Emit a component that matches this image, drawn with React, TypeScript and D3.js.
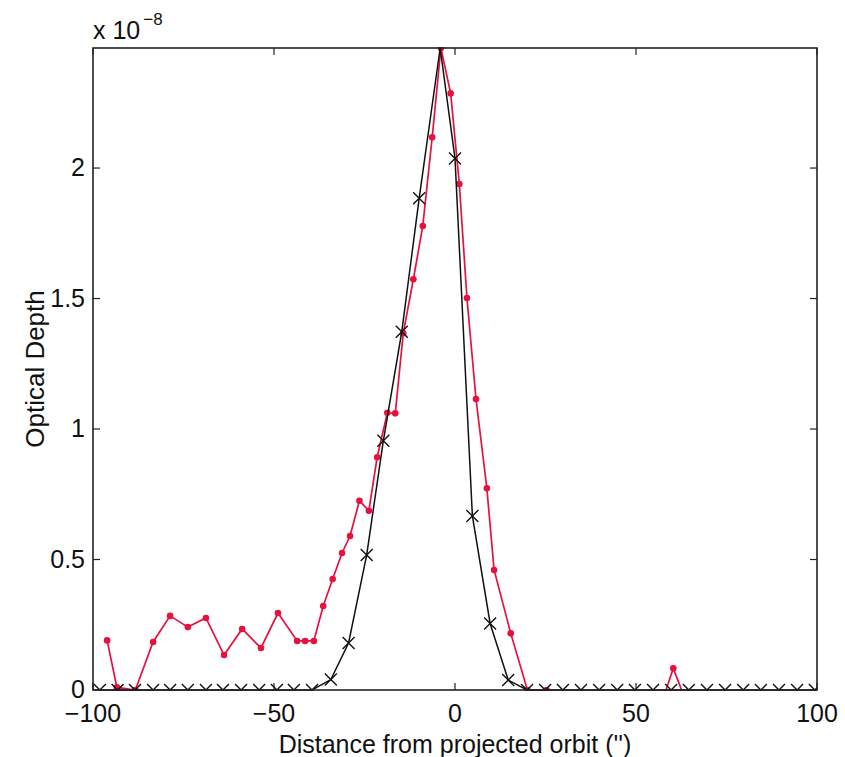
import React from "react";
import * as d3 from "d3";

// Black model (crosses) sample positions and values (units of 1e-8)
const crossX = [-98.1, -93.2, -88.4, -83.4, -78.7, -73.8, -68.8, -64.1, -59.1, -54.1, -49.2, -44.5, -39.5,
  -34.3, -29.4, -24.4, -19.8, -14.7, -9.9, 0, 4.8, 9.7, 14.7, 19.9, 24.9, 29.8, 34.8, 39.8, 44.8, 49.7,
  54.7, 59.7, 64.6, 69.6, 74.6, 79.6, 84.5, 89.5, 94.5, 99.4];
const crossY = [0, 0, 0, 0, 0, 0, 0, 0, 0, 0, 0, 0, 0,
  0.04, 0.18, 0.517, 0.955, 1.373, 1.884, 2.037, 0.667, 0.255, 0.038, 0, 0, 0, 0, 0, 0, 0,
  0, 0, 0, 0, 0, 0, 0, 0, 0, 0];
// Peak vertex of the black model curve
const blackPeakX = -4.1;
const blackPeakY = 2.46;

// Red measured series
const redX = [-96.1, -93.4, -88.3, -83.4, -78.7, -73.8, -68.8, -63.8, -58.8, -53.6, -48.9, -43.6, -41.4, -39.0,
  -36.4, -33.8, -31.2, -29.0, -26.4, -23.8, -21.5, -18.7, -16.5, -14.3, -11.5, -8.9, -6.3, -3.9, -1.2, 1.2,
  3.3, 5.8, 8.8, 10.8, 15.4, 20.0, 25.3];
const redY = [0.19, 0.01, 0, 0.184, 0.284, 0.241, 0.276, 0.134, 0.234, 0.161, 0.295, 0.188, 0.188, 0.188,
  0.322, 0.425, 0.525, 0.59, 0.725, 0.687, 0.892, 1.062, 1.06, 1.367, 1.574, 1.778, 2.118, 2.46, 2.286, 1.939,
  1.502, 1.115, 0.773, 0.46, 0.217, 0, 0];
const redSpikeX = [58.3, 60.3, 62.6];
const redSpikeY = [0, 0.083, 0];

const xTicks = [-100, -50, 0, 50, 100];
const yTicks = [0, 0.5, 1, 1.5, 2];
const xDomain = [-100, 100];
const yDomain = [0, 2.46];

const W = 845, H = 757;
const L = 93, R = 817, T = 48, B = 690;
const RED = "#e8103e";
const FONT = "'Liberation Sans', Arial, Helvetica, sans-serif";

export default function App() {
  const x = d3.scaleLinear().domain(xDomain).range([L, R]);
  const y = d3.scaleLinear().domain(yDomain).range([B, T]);

  const blackPts: [number, number][] = crossX.map((v, i) => [v, crossY[i]] as [number, number]);
  const insertAt = blackPts.findIndex((p) => p[0] > blackPeakX);
  blackPts.splice(insertAt, 0, [blackPeakX, blackPeakY]);

  const line = d3.line<[number, number]>().x((d) => x(d[0])).y((d) => y(d[1]));
  const redPts: [number, number][] = redX.map((v, i) => [v, redY[i]] as [number, number]);
  const spikePts: [number, number][] = redSpikeX.map((v, i) => [v, redSpikeY[i]] as [number, number]);

  const tickLen = 7;
  const cs = 6;

  return (
    <svg width={W} height={H} style={{ position: "absolute", left: 0, top: 0, background: "#fff" }}
      fontFamily={FONT}>
      <rect x={0} y={0} width={W} height={H} fill="#fff" />
      <defs>
        <clipPath id="plot">
          <rect x={L} y={T - 1} width={R - L} height={B - T + 2} />
        </clipPath>
      </defs>

      {/* red series */}
      <g clipPath="url(#plot)">
        <path d={line(redPts) || ""} fill="none" stroke={RED} strokeWidth={1.7} />
        <path d={line(spikePts) || ""} fill="none" stroke={RED} strokeWidth={1.7} />
        {redPts.map((p, i) => (
          <circle key={"r" + i} cx={x(p[0])} cy={y(p[1])} r={3.3} fill={RED} />
        ))}
        {spikePts.filter((p) => p[1] > 0).map((p, i) => (
          <circle key={"s" + i} cx={x(p[0])} cy={y(p[1])} r={3.3} fill={RED} />
        ))}
      </g>

      {/* black model */}
      <g clipPath="url(#plot)">
        <path d={line(blackPts) || ""} fill="none" stroke="#111" strokeWidth={1.5} />
        {crossX.map((v, i) => {
          const cx = x(v), cy = y(crossY[i]);
          return (
            <path key={"c" + i} d={`M${cx - cs},${cy - cs}L${cx + cs},${cy + cs}M${cx - cs},${cy + cs}L${cx + cs},${cy - cs}`}
              stroke="#111" strokeWidth={1.4} fill="none" />
          );
        })}
      </g>

      {/* axes box */}
      <rect x={L} y={T} width={R - L} height={B - T} fill="none" stroke="#222" strokeWidth={1.6} />
      {xTicks.map((t) => (
        <g key={"xt" + t}>
          <line x1={x(t)} x2={x(t)} y1={B} y2={B - tickLen} stroke="#222" strokeWidth={1.2} />
          <line x1={x(t)} x2={x(t)} y1={T} y2={T + tickLen} stroke="#222" strokeWidth={1.2} />
          <text x={x(t)} y={B + 32} textAnchor="middle" fontSize={25} fill="#111">
            {t < 0 ? "\u2212" + Math.abs(t) : String(t)}
          </text>
        </g>
      ))}
      {yTicks.map((t) => (
        <g key={"yt" + t}>
          <line x1={L} x2={L + tickLen} y1={y(t)} y2={y(t)} stroke="#222" strokeWidth={1.2} />
          <line x1={R} x2={R - tickLen} y1={y(t)} y2={y(t)} stroke="#222" strokeWidth={1.2} />
          <text x={L - 8} y={y(t) + 8} textAnchor="end" fontSize={25} fill="#111">
            {String(t)}
          </text>
        </g>
      ))}

      {/* exponent */}
      <text x={L} y={39} fontSize={25} fill="#111">
        x 10
        <tspan fontSize={17} dy={-14} dx={3}>{"\u22128"}</tspan>
      </text>

      {/* axis labels */}
      <text x={455} y={753} textAnchor="middle" fontSize={25} fill="#111">
        Distance from projected orbit ('')
      </text>
      <text transform={`translate(44,369) rotate(-90)`} textAnchor="middle" fontSize={26} fill="#111">
        Optical Depth
      </text>
    </svg>
  );
}
